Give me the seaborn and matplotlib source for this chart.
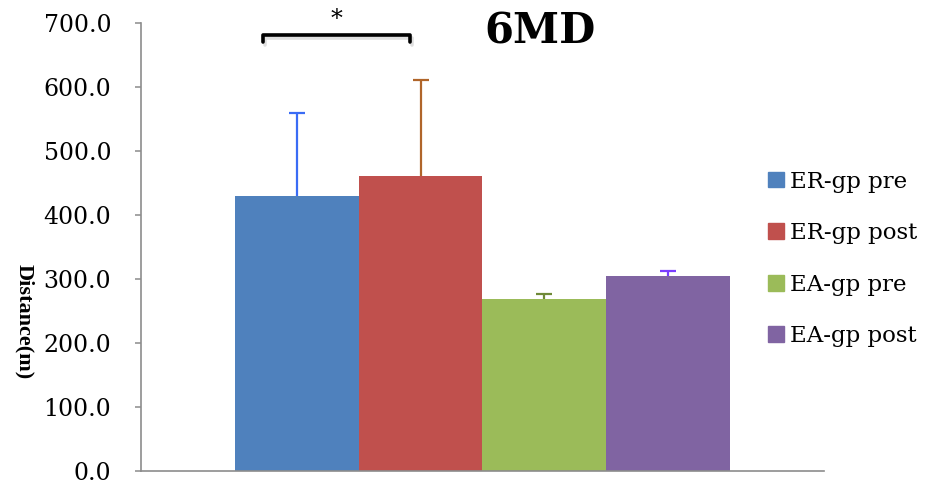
import numpy as np
import pandas as pd
import matplotlib
matplotlib.use('Agg')
import matplotlib.pyplot as plt
import matplotlib.patches as mpatches
import matplotlib.patheffects as pe
import seaborn as sns

# datos
grupos = ['ER-gp pre', 'ER-gp post', 'EA-gp pre', 'EA-gp post']
distancia = [430, 461, 269, 305]
error_sup = [130, 150, 7, 8]

colores_barra = ['#4F81BD', '#C0504D', '#9BBB59', '#8064A2']
colores_error = ['#3A6CF5', '#B0652A', '#6F8A38', '#7A3DFF']

df = pd.DataFrame({'grupo': grupos, 'distancia': distancia})

sns.set_style('white')
plt.rcParams['font.family'] = ['DejaVu Serif']
plt.rcParams['text.color'] = 'black'
plt.rcParams['ytick.labelcolor'] = 'black'

fig = plt.figure(figsize=(9.31, 4.91), dpi=100)
ax = fig.add_axes([141 / 931, 20 / 491, 683 / 931, 448 / 491])

sns.barplot(data=df, x='grupo', y='distancia', hue='grupo', palette=colores_barra,
            width=1.0, legend=False, ax=ax, saturation=1, linewidth=0, edgecolor='none')

# barras de error (solo hacia arriba)
for i, (v, e) in enumerate(zip(distancia, error_sup)):
    _, caps, _ = ax.errorbar(i, v, yerr=[[0], [e]], fmt='none', ecolor=colores_error[i],
                             elinewidth=1.6, capsize=6, capthick=1.6, zorder=3)
    caps[0].set_visible(False)

ax.set_xlim(-1.258, 4.258)
ax.set_ylim(0, 700)
ax.set_yticks(np.arange(0, 701, 100))
ax.set_yticklabels([f'{t:.1f}' for t in np.arange(0, 701, 100)], fontsize=17, color='black')
ax.set_xticks([])
ax.set_xlabel('')
ax.set_ylabel('')
ax.tick_params(axis='y', length=4.5, width=1.1, color='#8c8c8c', pad=17, left=True)

for s in ['top', 'right']:
    ax.spines[s].set_visible(False)
for s in ['left', 'bottom']:
    ax.spines[s].set_color('#8c8c8c')
    ax.spines[s].set_linewidth(1.2)

# corchete de significancia
bx = [-0.274, -0.274, 0.911, 0.911]
by = [670, 681, 681, 670]
ax.plot(bx, by, color='black', lw=2.6, solid_joinstyle='round', solid_capstyle='round',
        clip_on=False, zorder=5,
        path_effects=[pe.SimpleLineShadow(offset=(1.5, -2), alpha=0.25, shadow_color='gray'),
                      pe.Normal()])
ax.text(0.32, 706, '*', ha='center', va='center', fontsize=17, clip_on=False)

# título
fig.text(540 / 931, 1 - 31 / 491, '6MD', ha='center', va='center',
         fontsize=30, fontweight='bold', color='black')

# etiqueta eje y
fig.text(24 / 931, 1 - 322 / 491, 'Distance(m)', ha='center', va='center',
         rotation=270, fontsize=16, fontweight='bold', family='Liberation Serif',
         color='black')

# leyenda
handles = [mpatches.Patch(color=c, label=g) for c, g in zip(colores_barra, grupos)]
fig.legend(handles=handles, loc='center left', bbox_to_anchor=(768 / 931, 1 - 259 / 491),
           bbox_transform=fig.transFigure, frameon=False, fontsize=16.5,
           handlelength=0.68, handleheight=0.68, handletextpad=0.3,
           labelspacing=1.29, borderpad=0, borderaxespad=0)

plt.savefig('out.png', dpi=100)
plt.close()
